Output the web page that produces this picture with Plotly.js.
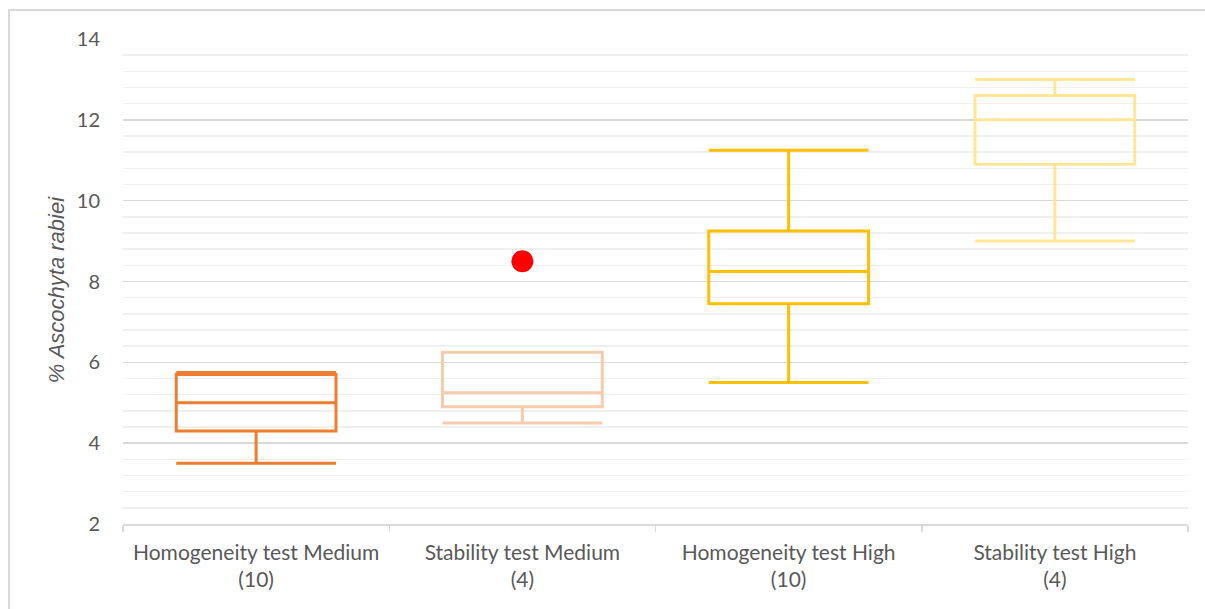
<!DOCTYPE html>
<html>
<head>
<meta charset="utf-8">
<script src="https://cdn.plot.ly/plotly-3.0.1.min.js"></script>
<style>
  html, body { margin: 0; padding: 0; background: #fff; overflow: hidden; }
  #frame { position: absolute; left: 8px; top: 9px; width: 1220px; height: 620px; border: 2px solid #d9d9d9; box-sizing: border-box; }
  #chart { position: absolute; left: 0; top: 0; width: 1205px; height: 609px; }
</style>
</head>
<body>
<div id="frame"></div>
<div id="chart"></div>
<script>
var categories = [
  "Homogeneity test Medium<br>(10)",
  "Stability test Medium<br>(4)",
  "Homogeneity test High<br>(10)",
  "Stability test High<br>(4)"
];
var lowerWhisker = [3.5, 4.5, 5.5, 9.0];
var q1Values     = [4.3, 4.9, 7.45, 10.9];
var medianValues = [5.0, 5.25, 8.25, 12.0];
var q3Values     = [5.7, 6.25, 9.25, 12.6];
var upperWhisker = [5.75, 6.25, 11.25, 13.0];
var boxColors    = ["#ED7D31", "#F8CBAD", "#FFC000", "#FFE699"];
var outlierCategory = [categories[1]];
var outlierValues   = [8.5];
var yTitle = "<i>% Ascochyta rabiei</i>";

var traces = categories.map(function (c, i) {
  return {
    type: "box",
    x: [c],
    q1: [q1Values[i]],
    median: [medianValues[i]],
    q3: [q3Values[i]],
    lowerfence: [lowerWhisker[i]],
    upperfence: [upperWhisker[i]],
    width: 0.6,
    whiskerwidth: 1,
    line: { color: boxColors[i], width: 3 },
    fillcolor: "rgba(255,255,255,0)",
    boxpoints: false,
    hoverinfo: "skip",
    showlegend: false
  };
});
traces.push({
  type: "scatter",
  mode: "markers",
  x: outlierCategory,
  y: outlierValues,
  marker: { color: "#FF0000", size: 22 },
  showlegend: false,
  hoverinfo: "skip"
});

var layout = {
  width: 1205,
  height: 609,
  margin: { l: 123, r: 17, t: 39, b: 85 },
  paper_bgcolor: "rgba(0,0,0,0)",
  plot_bgcolor: "rgba(0,0,0,0)",
  font: { family: "Lato, 'Liberation Sans', sans-serif", color: "#595959", size: 20 },
  showlegend: false,
  xaxis: {
    type: "category",
    categoryorder: "array",
    categoryarray: categories,
    tickson: "boundaries",
    tickangle: 0,
    ticks: "outside",
    ticklen: 6,
    tickwidth: 1.5,
    tickcolor: "#d9d9d9",
    ticklabelstandoff: 9,
    showline: true,
    linecolor: "#d9d9d9",
    linewidth: 1.5,
    showgrid: false,
    zeroline: false,
    tickfont: { size: 21, color: "#595959" },
    range: [-0.5, 3.5]
  },
  yaxis: {
    range: [2, 14],
    dtick: 2,
    tick0: 0,
    showgrid: true,
    gridcolor: "#d9d9d9",
    gridwidth: 1.5,
    zeroline: false,
    showline: false,
    ticks: "outside",
    ticklen: 18,
    tickcolor: "rgba(0,0,0,0)",
    tickfont: { size: 20, color: "#595959" },
    minor: { dtick: 0.4, tick0: 2, showgrid: true, gridcolor: "#f0f0f0", gridwidth: 1.5, ticks: "" }
  },
  annotations: [{
    text: yTitle,
    xref: "paper", yref: "paper",
    x: -0.063, y: 0.484,
    xanchor: "center", yanchor: "middle",
    textangle: -90,
    showarrow: false,
    font: { family: "'Liberation Sans', Arial, sans-serif", size: 22, color: "#595959" }
  }]
};

Plotly.newPlot("chart", traces, layout, { staticPlot: true, displayModeBar: false });
</script>
</body>
</html>
